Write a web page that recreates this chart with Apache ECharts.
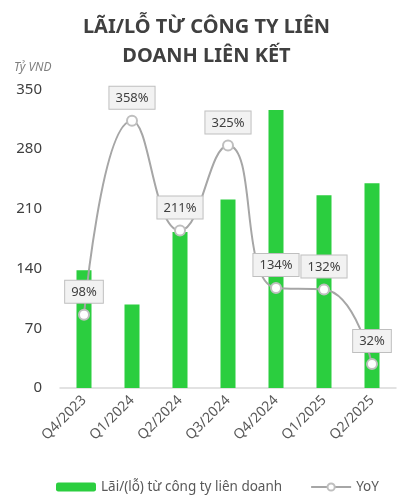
<!DOCTYPE html>
<html><head><meta charset="utf-8">
<script src="https://cdn.jsdelivr.net/npm/echarts@6/dist/echarts.min.js"></script>
<style>html,body{margin:0;padding:0;background:#fff}#c{width:413px;height:500px}</style>
</head><body><div id="c"></div>
<script>
const categories = ['Q4/2023','Q1/2024','Q2/2024','Q3/2024','Q4/2024','Q1/2025','Q2/2025'];
const profit = [138, 98, 183, 221, 326, 226, 240];
const yoy = [98, 358, 211, 325, 134, 132, 32];
const yTicks = [0, 70, 140, 210, 280, 350];
const FONT = '"Noto Sans", "Open Sans", sans-serif';

const chart = echarts.init(document.getElementById('c'));
chart.setOption({
  animation: false,
  textStyle: { fontFamily: FONT },
  title: {
    text: 'LÃI/LỖ TỪ CÔNG TY LIÊN\nDOANH LIÊN KẾT',
    left: 'center', top: 8,
    textStyle: { fontSize: 20, fontWeight: 'bold', color: '#404040', lineHeight: 29, fontFamily: FONT }
  },
  graphic: [{
    type: 'text', left: 14, top: 62,
    style: { text: 'Tỷ VND', fontSize: 12, fontStyle: 'italic', fill: '#7F7F7F', fontFamily: FONT }
  }],
  legend: {
    left: 51, bottom: 1,
    itemWidth: 40, itemHeight: 9, itemGap: 28,
    textStyle: { fontSize: 13.5, color: '#595959', fontFamily: FONT },
    data: ['Lãi/(lỗ) từ công ty liên doanh', 'YoY']
  },
  grid: { left: 60, right: 17, top: 89.5, bottom: 112, containLabel: false },
  xAxis: {
    type: 'category', data: categories,
    axisLine: { lineStyle: { color: '#D9D9D9', width: 1.5 } },
    axisTick: { show: false },
    axisLabel: { rotate: 45, fontSize: 14, color: '#595959', margin: 10, interval: 0 }
  },
  yAxis: [{
    type: 'value', min: yTicks[0], max: yTicks[yTicks.length - 1], interval: 70,
    splitLine: { show: false },
    axisLine: { show: false }, axisTick: { show: false },
    axisLabel: { fontSize: 15, color: '#404040', margin: 18 }
  }, {
    type: 'value', min: 0, max: 400, show: false, splitLine: { show: false }
  }],
  series: [{
    name: 'Lãi/(lỗ) từ công ty liên doanh',
    type: 'bar', data: profit, barWidth: 15,
    itemStyle: { color: '#2BCE3F' }
  }, {
    name: 'YoY', type: 'line', yAxisIndex: 1, data: yoy,
    smooth: 0.5,
    symbol: 'circle', symbolSize: 10,
    lineStyle: { color: '#A6A6A6', width: 2 },
    itemStyle: { color: '#FFFFFF', borderColor: '#BFBFBF', borderWidth: 2 },
    label: {
      show: true, position: 'top', distance: 6,
      formatter: '{c}%',
      fontSize: 13, color: '#404040',
      backgroundColor: '#F2F2F2', borderColor: '#BFBFBF', borderWidth: 1,
      padding: [5, 6, 4, 6]
    },
    z: 5
  }]
});
</script></body></html>
